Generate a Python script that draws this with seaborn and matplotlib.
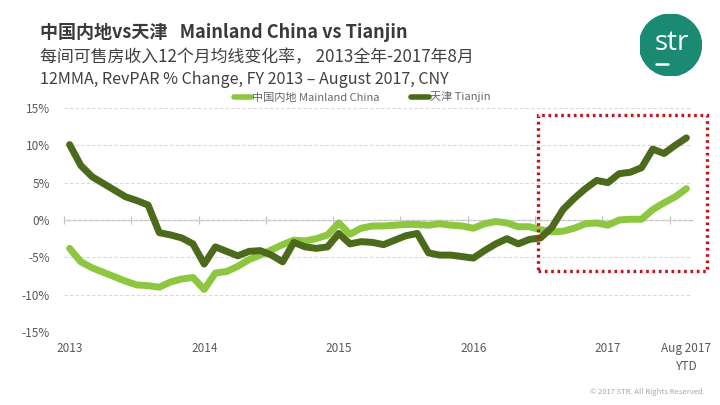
import matplotlib
matplotlib.use("Agg")
import matplotlib.pyplot as plt
import seaborn as sns
import pandas as pd
import numpy as np
from matplotlib.patches import Rectangle, Circle

# ---------------- data ----------------
months = list(range(56))  # Jan 2013 .. Aug 2017 (monthly, 12MMA)
mainland = [-3.8, -5.6, -6.4, -7.0, -7.6, -8.2, -8.7, -8.8, -9.0, -8.3, -7.9, -7.7,
            -9.3, -7.1, -6.9, -6.2, -5.3, -4.7, -4.0, -3.3, -2.7, -2.8, -2.5, -2.0,
            -0.4, -1.9, -1.1, -0.8, -0.8, -0.7, -0.6, -0.6, -0.7, -0.5, -0.7, -0.8,
            -1.1, -0.5, -0.2, -0.4, -0.9, -0.9, -1.3, -1.6, -1.5, -1.1, -0.5, -0.4,
            -0.7, 0.0, 0.1, 0.1, 1.4, 2.3, 3.1, 4.2]
tianjin = [10.1, 7.3, 5.8, 4.9, 4.0, 3.1, 2.6, 2.0, -1.7, -2.0, -2.4, -3.2,
           -5.9, -3.6, -4.2, -4.8, -4.2, -4.1, -4.7, -5.6, -3.0, -3.6, -3.8, -3.6,
           -1.8, -3.2, -2.9, -3.0, -3.3, -2.7, -2.1, -1.8, -4.4, -4.7, -4.7, -4.9,
           -5.1, -4.1, -3.2, -2.5, -3.2, -2.6, -2.4, -1.0, 1.4, 2.9, 4.2, 5.3,
           5.0, 6.2, 6.4, 7.0, 9.5, 8.9, 10.0, 11.0]
series_names = ["中国内地 Mainland China", "天津 Tianjin"]
series_colors = ["#8dc63f", "#4b6a1b"]
xtick_pos = [0, 12, 24, 36, 48, 55]
xtick_labels = ["2013", "2014", "2015", "2016", "2017", "Aug 2017\nYTD"]
half_year_ticks = [-0.5 + 6 * k for k in range(10)]
yticks = [-15, -10, -5, 0, 5, 10, 15]
ytick_labels = ["-15%", "-10%", "-5%", "0%", "5%", "10%", "15%"]

df = pd.DataFrame({
    "month": months * 2,
    "value": mainland + tianjin,
    "series": [series_names[0]] * len(months) + [series_names[1]] * len(months),
})

# ---------------- style ----------------
sns.set_theme(style="white")
plt.rcParams["font.family"] = ["Noto Sans CJK SC", "DejaVu Sans"]

fig = plt.figure(figsize=(7.2, 4.05), dpi=100)
ax = fig.add_axes([64 / 720, 73 / 405, 628 / 720, 224 / 405])

sns.lineplot(data=df, x="month", y="value", hue="series", hue_order=series_names,
             palette=series_colors, linewidth=5.0, ax=ax, legend=True,
             solid_capstyle="round", solid_joinstyle="round")

ax.set_xlim(-0.5, 55.5)
ax.set_ylim(-15, 15)
ax.set_xlabel("")
ax.set_ylabel("")

for s in ax.spines.values():
    s.set_visible(False)

ax.set_yticks(yticks)
ax.set_yticklabels(ytick_labels)
ax.tick_params(axis="y", length=0, pad=10, labelsize=8.5, labelcolor="#595959")
ax.set_xticks(xtick_pos)
ax.set_xticklabels(xtick_labels, linespacing=1.5)
ax.tick_params(axis="x", length=0, pad=7, labelsize=8.5, labelcolor="#595959")

ax.yaxis.grid(True, color="#d9d9d9", linestyle=(0, (3, 2)), linewidth=0.8)
ax.xaxis.grid(False)
ax.set_axisbelow(True)

# zero-line category axis with half-year tick marks
sec = ax.secondary_xaxis(0, transform=ax.transData)
sec.set_xticks(half_year_ticks)
sec.set_xticklabels([""] * len(half_year_ticks))
sec.tick_params(axis="x", direction="inout", length=6, width=0.8, color="#bfbfbf")
sec.spines["bottom"].set_color("#bfbfbf")
sec.spines["bottom"].set_linewidth(0.9)

# legend
handles, labels = ax.get_legend_handles_labels()
leg = ax.legend(handles, labels, loc="center", bbox_to_anchor=(362 / 720, 1 - 97 / 405),
                bbox_transform=fig.transFigure, ncol=2, frameon=False, fontsize=8,
                handlelength=1.6, handletextpad=0.1, columnspacing=2.8,
                labelcolor="#666666")
for h in leg.get_lines():
    h.set_linewidth(4)

# red dotted highlight box
rect = Rectangle((41.8, -6.8), 15.0, 20.8, fill=False, edgecolor="#c0141c",
                 linestyle=(0, (0.8, 1.1)), linewidth=2.4, clip_on=False, zorder=5)
ax.add_patch(rect)

# titles
fig.text(40 / 720, 1 - 32 / 405, "中国内地vs天津   Mainland China vs Tianjin",
         fontsize=13, fontweight="bold", color="#3a3a3a", va="center", ha="left")
fig.text(40 / 720, 1 - 57 / 405, "每间可售房收入12个月均线变化率， 2013全年-2017年8月",
         fontsize=12.2, color="#404040", va="center", ha="left")
fig.text(40 / 720, 1 - 80 / 405, "12MMA, RevPAR % Change, FY 2013 \u2013 August 2017, CNY",
         fontsize=11.6, color="#404040", va="center", ha="left")

# copyright
fig.text(705 / 720, 1 - 392 / 405, "© 2017 STR. All Rights Reserved.",
         fontsize=5.5, color="#a6a6a6", va="center", ha="right")

# logo
lax = fig.add_axes([(670.5 - 31) / 720, (405 - 45 - 31) / 405, 62 / 720, 62 / 405])
lax.set_xlim(0, 1)
lax.set_ylim(0, 1)
lax.axis("off")
lax.add_patch(Circle((0.5, 0.5), 0.5, color="#1a8a72"))
lax.text(0.52, 0.53, "str", color="white", fontsize=20, ha="center", va="center",
         fontweight="medium", family=["Open Sans", "DejaVu Sans"])
lax.plot([0.27, 0.46], [0.2, 0.2], color="white", linewidth=1.8)

fig.savefig("out.png", dpi=100)
